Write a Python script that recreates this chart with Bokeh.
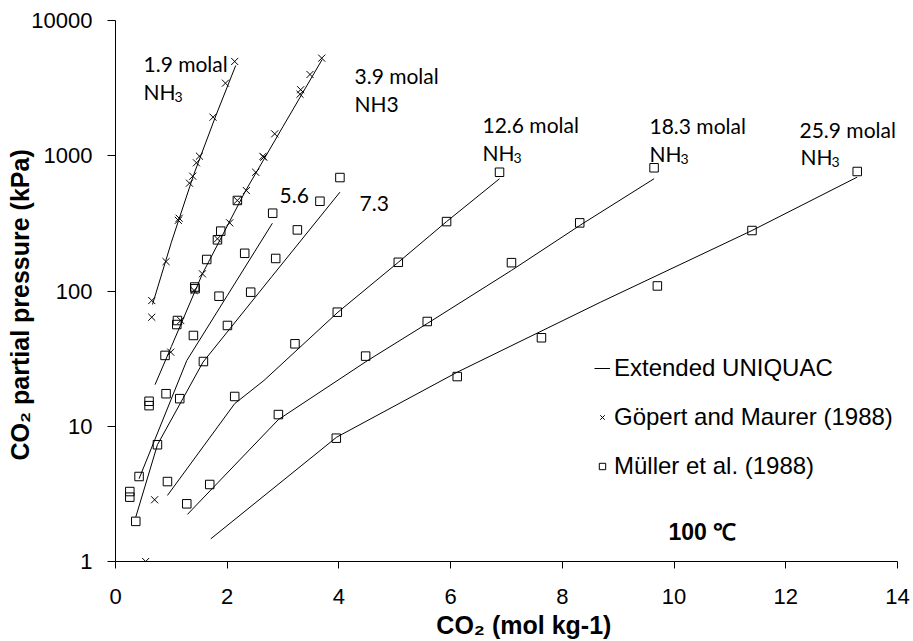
import math
from bokeh.plotting import figure
from bokeh.models import (Range1d, FixedTicker, NumeralTickFormatter, Label,
                          Legend, LegendItem)
from bokeh.embed import file_html
from bokeh.resources import INLINE

# ---------------- data ----------------
# Extended UNIQUAC model curves (CO2 molality, CO2 partial pressure kPa)
uq_19_x = [0.662, 1.0, 1.4, 1.8, 2.152]
uq_19_p = [79.5, 229, 724, 1995, 4645]
uq_39_x = [0.708, 1.0, 1.556, 2.331, 3.0, 3.70]
uq_39_p = [20.3, 38.8, 134, 553, 1648, 5150]
uq_56_x = [0.422, 1.276, 2.0, 2.809]
uq_56_p = [4.09, 30.6, 92.3, 317]
uq_73_x = [0.363, 0.751, 1.567, 2.8, 4.018]
uq_73_p = [2.13, 7.3, 29.8, 128, 538]
uq_126_x = [0.930, 2.134, 2.658, 3.982, 5.063, 5.927, 6.875]
uq_126_p = [3.08, 14.7, 21.8, 69.7, 163, 326, 676]
uq_183_x = [1.288, 2.916, 4.508, 5.581, 7.089, 8.311, 9.642]
uq_183_p = [2.23, 11.2, 30.5, 57.5, 142, 305, 676]
uq_259_x = [1.705, 3.959, 6.118, 8.682, 11.395, 13.279]
uq_259_p = [1.47, 8.3, 25.1, 82.6, 280, 695]

# Goeppert and Maurer (1988) data (crosses)
gm_19_x = [2.134, 1.968, 1.746, 1.503, 1.449, 1.383, 1.324, 1.140, 1.125, 0.905, 0.649, 0.649]
gm_19_p = [4977, 3440, 1928, 993, 887, 706, 627, 345, 333, 165, 85, 64]
gm_39_x = [3.692, 3.482, 3.315, 3.303, 2.850, 2.640, 2.655, 2.510, 2.343, 2.180, 2.045,
           1.825, 1.556, 1.406, 1.168, 0.989, 0.70, 0.54]
gm_39_p = [5265, 3990, 3077, 2851, 1452, 990, 975, 755, 553, 467, 319,
           243, 134, 101, 60.5, 35.3, 2.86, 1.0]

# Mueller et al. (1988) data (squares)
mu_39_x = [0.256, 0.256, 0.601, 0.601, 0.887, 1.109, 1.097, 1.419, 1.425, 1.633, 1.825, 1.884, 2.182]
mu_39_p = [3.29, 2.99, 15.3, 14.2, 33.4, 60.5, 56.5, 107, 104, 171, 239, 277, 467]
mu_56_x = [0.422, 0.905, 1.395, 1.853, 2.313, 2.814]
mu_56_p = [4.25, 17.4, 46.9, 91.5, 190, 376]
mu_73_x = [0.363, 0.751, 1.150, 1.574, 2.004, 2.420, 2.868, 3.256, 3.660, 4.018]
mu_73_p = [1.98, 7.3, 16.0, 30.1, 55.6, 98, 174, 283, 461, 690]
mu_126_x = [0.930, 2.134, 3.213, 3.971, 5.063, 5.927, 6.875]
mu_126_p = [3.9, 16.6, 40.7, 69.7, 163, 326, 755]
mu_183_x = [1.276, 1.687, 2.916, 4.478, 5.581, 7.089, 8.311, 9.642]
mu_183_p = [2.67, 3.71, 12.2, 33.0, 59.5, 162, 319, 815]
mu_259_x = [3.953, 6.118, 7.626, 9.701, 11.395, 13.279]
mu_259_p = [8.16, 23.3, 45.1, 109, 280, 765]

x_ticks = [0, 2, 4, 6, 8, 10, 12, 14]
y_ticks = [1, 10, 100, 1000, 10000]

legend_labels = ["Extended UNIQUAC", "Göpert and Maurer (1988)", "Müller et al. (1988)"]
x_title = "CO\u2082 (mol kg-1)"
y_title = "CO\u2082 partial pressure (kPa)"

# ---------------- figure ----------------
FRAME_LEFT = 115
FRAME_BOTTOM = 561

p = figure(width=913, height=641, output_backend="svg", toolbar_location=None, title=None,
           x_range=Range1d(0, 14), y_range=Range1d(1, 10000), y_axis_type="log",
           min_border_left=115, min_border_right=16, min_border_top=20, min_border_bottom=80)
p.background_fill_color = "white"
p.border_fill_color = "white"
p.outline_line_color = None
p.grid.visible = False

p.xaxis.ticker = FixedTicker(ticks=x_ticks)
p.yaxis.ticker = FixedTicker(ticks=y_ticks)
p.yaxis.formatter = NumeralTickFormatter(format="0")
p.xaxis.formatter = NumeralTickFormatter(format="0")
for ax in (p.xaxis[0], p.yaxis[0]):
    ax.axis_line_color = "black"
    ax.axis_line_width = 1
    ax.major_tick_line_color = "black"
    ax.major_tick_in = 0
    ax.minor_tick_line_color = None
    ax.major_label_text_font = "Liberation Sans"
    ax.major_label_text_font_size = "22px"
    ax.major_label_text_color = "black"
    ax.axis_label_text_font = "Liberation Sans"
    ax.axis_label_text_font_size = "25px"
    ax.axis_label_text_font_style = "bold"
    ax.axis_label_text_color = "black"
p.xaxis.major_tick_out = 7
p.yaxis.major_tick_out = 8
p.xaxis.major_label_standoff = 20
p.yaxis.major_label_standoff = 15
p.xaxis.axis_label = "\u00a0" * 5 + x_title
p.yaxis.axis_label = y_title + "\u00a0" * 4
p.xaxis.axis_label_standoff = 4
p.yaxis.axis_label_standoff = -6

line_sets = [(uq_19_x, uq_19_p), (uq_39_x, uq_39_p), (uq_56_x, uq_56_p), (uq_73_x, uq_73_p),
             (uq_126_x, uq_126_p), (uq_183_x, uq_183_p), (uq_259_x, uq_259_p)]
line_renderers = []
for xs, ps in line_sets:
    line_renderers.append(p.line(xs, ps, line_color="black", line_width=1))

gm_x = gm_19_x + gm_39_x
gm_p = gm_19_p + gm_39_p
mu_x = mu_39_x + mu_56_x + mu_73_x + mu_126_x + mu_183_x + mu_259_x
mu_p = mu_39_p + mu_56_p + mu_73_p + mu_126_p + mu_183_p + mu_259_p

r_gm = p.scatter(gm_x, gm_p, marker="x", size=10, line_color="black", line_width=1)
r_mu = p.scatter(mu_x, mu_p, marker="square", size=8.5, fill_color=None,
                 line_color="black", line_width=1)

legend = Legend(items=[LegendItem(label=legend_labels[0], renderers=[line_renderers[0]]),
                       LegendItem(label=legend_labels[1], renderers=[r_gm]),
                       LegendItem(label=legend_labels[2], renderers=[r_mu])],
                location=(479, 75), glyph_width=16, glyph_height=40, label_height=40,
                spacing=9, padding=0, margin=0, label_standoff=4,
                border_line_color=None, background_fill_alpha=0,
                label_text_font="Liberation Sans", label_text_font_size="24px",
                label_text_color="black")
p.add_layout(legend)


def put(text, px, py, size, font="Lato", style="normal", align="left",
        baseline="alphabetic", angle=0.0):
    p.add_layout(Label(x=px - FRAME_LEFT, y=FRAME_BOTTOM - py,
                       x_units="screen", y_units="screen", text=text,
                       text_font=font, text_font_size=f"{size}px", text_font_style=style,
                       text_align=align, text_baseline=baseline, angle=angle,
                       text_color="black"))


# series annotations
put("1.9 molal", 143, 63, 21)
put("NH", 143, 91, 21)
put("3", 174, 96, 14)
put("3.9 molal", 354, 75, 21)
put("NH3", 354, 103, 21)
put("12.6 molal", 482, 124, 21)
put("NH", 482, 152, 21)
put("3", 513, 157, 14)
put("18.3 molal", 649, 125, 21)
put("NH", 649, 153, 21)
put("3", 680, 158, 14)
put("25.9 molal", 799, 129, 21)
put("NH", 800, 156, 21)
put("3", 831, 161, 14)
put("5.6", 279, 195, 21)
put("7.3", 359, 203, 21)

put("100 ℃", 668, 531, 23, font="Liberation Sans", style="bold")

open("out.html", "w").write(file_html(p, INLINE))
